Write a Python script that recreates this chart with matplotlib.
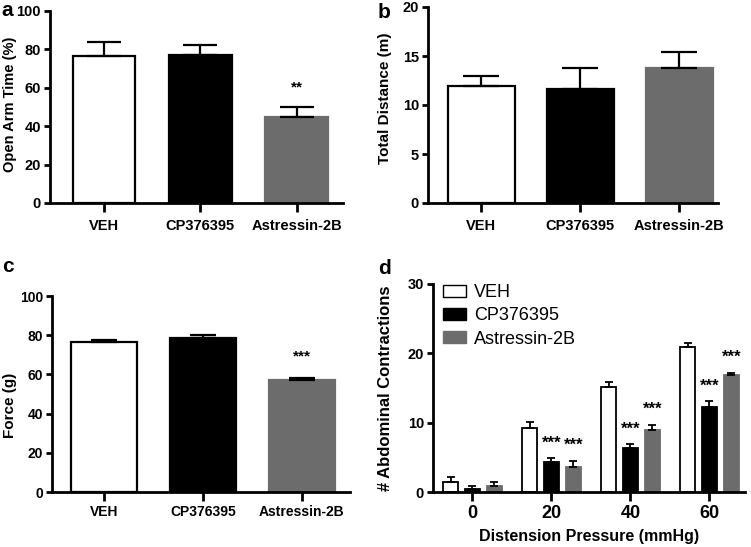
import matplotlib
matplotlib.use("Agg")
import matplotlib.pyplot as plt
import numpy as np
from matplotlib.patches import Patch

plt.rcParams['font.family'] = ['Liberation Sans', 'DejaVu Sans']

# ---------------- data ----------------
groups = ["VEH", "CP376395", "Astressin-2B"]

a_mean = [76.8, 77.0, 45.0]
a_sem = [7.0, 5.2, 5.2]
a_sig = ["", "", "**"]

b_mean = [11.9, 11.6, 13.8]
b_sem = [1.1, 2.2, 1.6]

c_mean = [76.6, 78.8, 57.2]
c_sem = [1.0, 1.1, 1.0]
c_sig = ["", "", "***"]

pressures = [0, 20, 40, 60]
d_veh = [1.5, 9.3, 15.2, 20.9]
d_veh_sem = [0.6, 0.8, 0.7, 0.6]
d_cp = [0.5, 4.3, 6.3, 12.2]
d_cp_sem = [0.4, 0.6, 0.6, 0.9]
d_ast = [0.9, 3.6, 8.9, 16.9]
d_ast_sem = [0.5, 0.9, 0.8, 0.3]
d_cp_sig = ["", "***", "***", "***"]
d_ast_sig = ["", "***", "***", "***"]

GRAY = "#6c6c6c"
colors = ["white", "black", GRAY]
edges = ["black", "black", GRAY]

W, H = 751, 547
fig = plt.figure(figsize=(W / 100, H / 100), dpi=100)


def rect(l, r, t, b):
    return [l / W, 1 - b / H, (r - l) / W, (b - t) / H]


def style(ax, xfs, yfs, xpad):
    for s in ["top", "right"]:
        ax.spines[s].set_visible(False)
    for s in ["left", "bottom"]:
        ax.spines[s].set_linewidth(2.0)
    ax.tick_params(axis="y", width=2.0, length=4.5, direction="out",
                   labelsize=yfs, pad=2)
    ax.tick_params(axis="x", width=2.0, length=6.5, direction="out",
                   labelsize=xfs, pad=xpad)
    for lab in ax.get_xticklabels() + ax.get_yticklabels():
        lab.set_fontweight("bold")


def bar_panel(ax, means, sems, ylim, yticks, ylabel, ylfs, ylpos, width, xlim, capsize,
              tfs, xpad, sig=None, sigfs=11, sigoff=0.1):
    x = np.arange(len(groups))
    ax.bar(x, means, width=width, color=colors, edgecolor=edges, linewidth=1.6, zorder=2)
    ax.errorbar(x, means, yerr=[np.zeros(len(means)), sems], fmt="none",
                ecolor="black", elinewidth=1.6, capsize=capsize, capthick=1.6, zorder=3)
    ax.set_xlim(*xlim)
    ax.set_ylim(*ylim)
    ax.set_yticks(yticks)
    ax.set_xticks(x)
    ax.set_xticklabels(groups)
    ax.set_ylabel(ylabel, fontsize=ylfs, fontweight="bold")
    ax.yaxis.set_label_coords(*ylpos)
    style(ax, tfs, tfs, xpad)
    if sig:
        for xi, m, s, t in zip(x, means, sems, sig):
            if t:
                ax.text(xi, m + s + sigoff * (ylim[1] - ylim[0]), t, ha="center",
                        va="center", fontsize=sigfs, fontweight="bold")


# panel a
ax_a = fig.add_axes(rect(50, 343, 11, 203))
bar_panel(ax_a, a_mean, a_sem, (0, 100), [0, 20, 40, 60, 80, 100],
          "Open Arm Time (%)", 10.5, (-0.113, 0.513), 0.65, (-0.56, 2.48), 12, 10.5, 5, a_sig)

# panel b
ax_b = fig.add_axes(rect(428, 718, 7, 203))
bar_panel(ax_b, b_mean, b_sem, (0, 20), [0, 5, 10, 15, 20],
          "Total Distance (m)", 11, (-0.124, 0.535), 0.68, (-0.54, 2.39), 13, 10.5, 5)

# panel c
ax_c = fig.add_axes(rect(52, 350, 296, 492))
bar_panel(ax_c, c_mean, c_sem, (0, 100), [0, 20, 40, 60, 80, 100],
          "Force (g)", 11, (-0.117, 0.44), 0.67, (-0.53, 2.49), 9.5, 10, 3, c_sig, sigoff=0.11)

# panel d
ax_d = fig.add_axes(rect(433, 745, 284, 492))
off, bw = 5.5, 3.8
p = np.array(pressures, dtype=float)
series = [(d_veh, d_veh_sem), (d_cp, d_cp_sem), (d_ast, d_ast_sem)]
for i, (vals, sems) in enumerate(series):
    xs = p + (i - 1) * off
    ax_d.bar(xs, vals, width=bw, color=colors[i], edgecolor=edges[i],
             linewidth=1.3, zorder=2)
    ax_d.errorbar(xs, vals, yerr=[np.zeros(len(vals)), sems], fmt="none",
                  ecolor="black", elinewidth=1.3, capsize=3, capthick=1.3, zorder=3)
for i, (vals, sems, sig) in enumerate([(d_cp, d_cp_sem, d_cp_sig), (d_ast, d_ast_sem, d_ast_sig)]):
    xs = p + i * off
    for xi, v, s, t in zip(xs, vals, sems, sig):
        if t:
            ax_d.text(xi, v + s + 2.2, t, ha="center", va="center",
                      fontsize=12, fontweight="bold")
ax_d.set_xlim(-10, 69)
ax_d.set_ylim(0, 30)
ax_d.set_yticks([0, 10, 20, 30])
ax_d.set_xticks(pressures)
ax_d.set_xticklabels([str(v) for v in pressures])
ax_d.set_ylabel("# Abdominal Contractions", fontsize=12, fontweight="bold")
ax_d.yaxis.set_label_coords(-0.128, 0.5)
ax_d.set_xlabel("Distension Pressure (mmHg)", fontsize=11.5, fontweight="bold", labelpad=5)
style(ax_d, 13, 10.5, 3)
handles = [Patch(facecolor=colors[i], edgecolor="black" if i < 2 else GRAY,
                 linewidth=1.0, label=groups[i]) for i in range(3)]
ax_d.legend(handles=handles, loc="upper left", bbox_to_anchor=(0.01, 1.035),
            frameon=False, prop={"size": 13}, handlelength=1.25, handleheight=0.65,
            handletextpad=0.45, labelspacing=0.35, borderaxespad=0)

# panel letters
for txt, x, y in [("a", 1, 10), ("b", 378, 12), ("c", 2, 267), ("d", 378, 269)]:
    fig.text(x / W, 1 - y / H, txt, fontsize=15, fontweight="bold", ha="left", va="center")

fig.savefig("out.png", dpi=100)
